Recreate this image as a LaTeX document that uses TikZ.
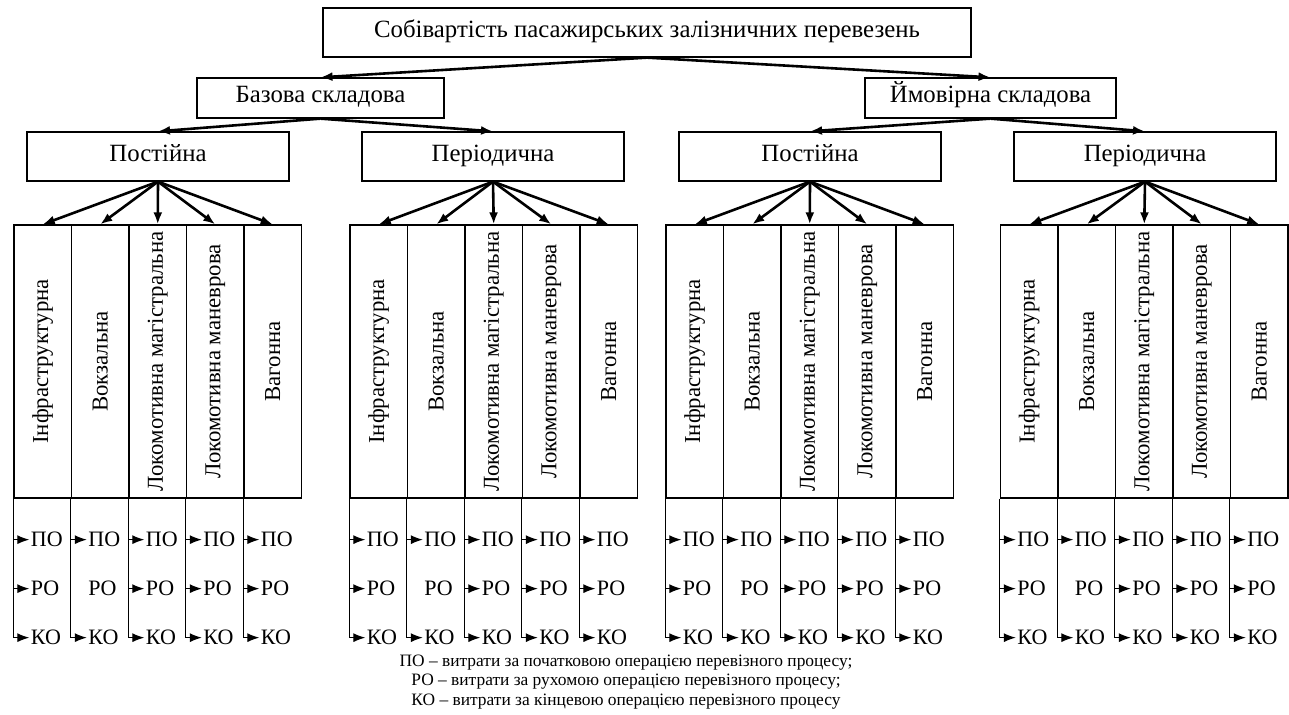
\documentclass[tikz,border=0pt]{standalone}
\usepackage{fontspec}
\setmainfont{Liberation Serif}
\usetikzlibrary{arrows.meta}
\tikzset{
  box/.style={draw,line width=0.65pt,inner sep=0pt,text height=0.7em,text depth=0.22em,font=\fontsize{12.4}{14}\selectfont},
  col/.style={draw,line width=0.65pt,inner sep=0pt,minimum width=28.75pt,minimum height=136.5pt,font=\fontsize{11.4}{13}\selectfont},
  arr/.style={line width=1.3pt,-{Latex[length=6pt,width=4.5pt]}},
  tick/.style={line width=0.6pt,-{Latex[length=6pt,width=4.5pt]}},
  cost/.style={right,inner sep=0.5pt,font=\fontsize{11}{13}\selectfont},
}
\begin{document}
\begin{tikzpicture}[x=0.5pt,y=-0.5pt]
\useasboundingbox (0,0) rectangle (1289,715);
\node[box,minimum width=324pt,minimum height=24.5pt] (root) at (647,32.5) {Собівартість пасажирських залізничних перевезень};
\node[box,minimum width=123.5pt,minimum height=20pt] (base) at (320.5,98) {Базова складова};
\node[box,minimum width=125.5pt,minimum height=20pt] (prob) at (990.5,98) {Ймовірна складова};
\node[box,minimum width=131pt,minimum height=24.5pt] (post1) at (158,156.5) {Постійна};
\node[box,minimum width=131pt,minimum height=24.5pt] (per1) at (493,156.5) {Періодична};
\node[box,minimum width=131pt,minimum height=24.5pt] (post2) at (810,156.5) {Постійна};
\node[box,minimum width=131pt,minimum height=24.5pt] (per2) at (1145,156.5) {Періодична};

\draw[arr] (root.south) -- (base.north);
\draw[arr] (root.south) -- (prob.north);
\draw[arr] (base.south) -- (post1.north);
\draw[arr] (base.south) -- (per1.north);
\draw[arr] (prob.south) -- (post2.north);
\draw[arr] (prob.south) -- (per2.north);

% columns with ПО / РО / КО
\foreach \g/\L/\p in {1/14/post1, 2/350/per1, 3/666/post2, 4/1000.5/per2} {
  \foreach \t [count=\i from 0] in {Інфраструктурна, Вокзальна, Локомотивна магістральна, Локомотивна маневрова, Вагонна} {
    \node[col] (c\g\i) at ({\L+28.75+57.5*\i},361.5) {\rotatebox{90}{\t}};
    \draw[arr] (\p.south) -- (c\g\i.north);
    \draw[line width=0.6pt] (c\g\i.south west) -- ([yshift=-69.5pt]c\g\i.south west);
    \draw[tick] ([yshift=-20.5pt]c\g\i.south west) -- ++(16,0) node[cost] (po\g\i) {ПО};
    \ifnum\i=1
      \node[cost] (ro\g\i) at ([xshift=8pt,yshift=-45pt]c\g\i.south west) {РО};
    \else
      \draw[tick] ([yshift=-45pt]c\g\i.south west) -- ++(16,0) node[cost] (ro\g\i) {РО};
    \fi
    \draw[tick] ([yshift=-69.5pt]c\g\i.south west) -- ++(16,0) node[cost] (ko\g\i) {КО};
  }
}

\node[align=center,inner sep=0pt,font=\fontsize{8.7}{9.6}\selectfont] (legend) at (626,682) {ПО – витрати за початковою операцією перевізного процесу;\\
РО – витрати за рухомою операцією перевізного процесу;\\
КО – витрати за кінцевою операцією перевізного процесу};
\end{tikzpicture}
\end{document}
